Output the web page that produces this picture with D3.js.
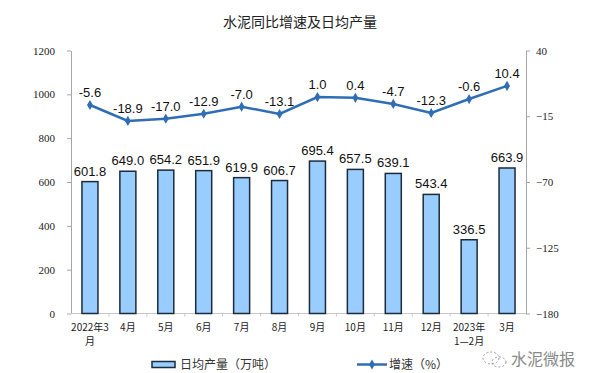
<!DOCTYPE html>
<html>
<head>
<meta charset="utf-8">
<script src="https://cdn.jsdelivr.net/npm/d3@7"></script>
<style>
  body { margin: 0; background: #fff; }
  svg { display: block; }
</style>
</head>
<body>
<div id="wrapper"></div>
<script>
// data
const categories = ["2022年3\n月", "4月", "5月", "6月", "7月", "8月", "9月", "10月", "11月", "12月", "2023年\n1—2月", "3月"];
const output = [601.8, 649.0, 654.2, 651.9, 619.9, 606.7, 695.4, 657.5, 639.1, 543.4, 336.5, 663.9];
const growth = [-5.6, -18.9, -17.0, -12.9, -7.0, -13.1, 1.0, 0.4, -4.7, -12.3, -0.6, 10.4];
const leftTicks = [0, 200, 400, 600, 800, 1000, 1200];
const rightTicks = [-180, -125, -70, -15, 40];

const dimensions = {
    width: 601,
    height: 373,
    left: 71,
    right: 526,
    top: 50.5,
    bottom: 313.5
};

const svg = d3.select("#wrapper")
    .append("svg")
    .attr("width", dimensions.width)
    .attr("height", dimensions.height);

const xScale = d3.scaleBand()
    .domain(categories)
    .range([dimensions.left, dimensions.right])
    .padding(0);

const yLeft = d3.scaleLinear()
    .domain([0, 1200])
    .range([dimensions.bottom, dimensions.top]);

const yRight = d3.scaleLinear()
    .domain([-180, 40])
    .range([dimensions.bottom, dimensions.top]);

const serif = "'Liberation Serif', 'Times New Roman', serif";
const sans = "'Liberation Sans', Arial, sans-serif";
const cjk = "'Noto Sans CJK SC', 'Noto Sans', sans-serif";

// title
svg.append("text")
    .attr("x", 300)
    .attr("y", 27)
    .attr("text-anchor", "middle")
    .attr("font-family", cjk)
    .attr("font-size", "14px")
    .attr("fill", "#222")
    .text("水泥同比增速及日均产量");

// left axis
const leftAxis = svg.append("g")
    .attr("transform", `translate(${dimensions.left},0)`)
    .call(d3.axisLeft(yLeft).tickValues(leftTicks).tickFormat(d3.format("d"))
        .tickSize(4).tickPadding(12).tickSizeOuter(0));

// right axis
const rightAxis = svg.append("g")
    .attr("transform", `translate(${dimensions.right},0)`)
    .call(d3.axisRight(yRight).tickValues(rightTicks).tickFormat(d3.format("d"))
        .tickSize(4).tickPadding(6).tickSizeOuter(0));

[leftAxis, rightAxis].forEach(ax => {
    ax.attr("font-family", serif);
    ax.select(".domain").attr("stroke", "#a6a6a6");
    ax.selectAll(".tick line").attr("stroke", "#a6a6a6");
    ax.selectAll(".tick text")
        .attr("font-family", serif)
        .attr("font-size", "11px")
        .attr("fill", "#222");
});

// bottom axis: line, boundary ticks, labels
svg.append("line")
    .attr("x1", dimensions.left)
    .attr("x2", dimensions.right)
    .attr("y1", dimensions.bottom)
    .attr("y2", dimensions.bottom)
    .attr("stroke", "#c8c8c8");

svg.selectAll(".xtick")
    .data(categories.slice(1))
    .enter()
    .append("line")
    .attr("class", "xtick")
    .attr("x1", d => xScale(d))
    .attr("x2", d => xScale(d))
    .attr("y1", dimensions.bottom)
    .attr("y2", dimensions.bottom + 3)
    .attr("stroke", "#c8c8c8");

// category labels, one text per line so wrapped labels stay separate
categories.forEach(c => {
    const cx = xScale(c) + xScale.bandwidth() / 2;
    c.split("\n").forEach((line, i) => {
        svg.append("text")
            .attr("x", cx)
            .attr("y", 331 + i * 14)
            .attr("text-anchor", "middle")
            .attr("font-family", cjk)
            .attr("font-size", "10px")
            .attr("fill", "#222")
            .text(line);
    });
});

// bars
const barWidth = 16;
svg.selectAll(".bar")
    .data(output)
    .enter()
    .append("rect")
    .attr("class", "bar")
    .attr("x", (d, i) => xScale(categories[i]) + (xScale.bandwidth() - barWidth) / 2)
    .attr("y", d => yLeft(d))
    .attr("width", barWidth)
    .attr("height", d => yLeft(0) - yLeft(d))
    .attr("fill", "#99ccff")
    .attr("stroke", "#1c2b3a")
    .attr("stroke-width", 1.5);

svg.selectAll(".bar-label")
    .data(output)
    .enter()
    .append("text")
    .attr("class", "bar-label")
    .attr("x", (d, i) => xScale(categories[i]) + xScale.bandwidth() / 2)
    .attr("y", d => yLeft(d) - 6)
    .attr("text-anchor", "middle")
    .attr("font-family", sans)
    .attr("font-size", "13px")
    .attr("fill", "#111")
    .text(d => d.toFixed(1));

// growth line
const lineColor = "#2f6db5";
const lineGenerator = d3.line()
    .x((d, i) => xScale(categories[i]) + xScale.bandwidth() / 2)
    .y(d => yRight(d));

svg.append("path")
    .datum(growth)
    .attr("d", lineGenerator)
    .attr("fill", "none")
    .attr("stroke", lineColor)
    .attr("stroke-width", 2.5);

const diamond = d3.symbol().type(d3.symbolDiamond).size(30);
svg.selectAll(".marker")
    .data(growth)
    .enter()
    .append("path")
    .attr("class", "marker")
    .attr("d", diamond)
    .attr("transform", (d, i) => `translate(${xScale(categories[i]) + xScale.bandwidth() / 2},${yRight(d)})`)
    .attr("fill", lineColor);

svg.selectAll(".line-label")
    .data(growth)
    .enter()
    .append("text")
    .attr("class", "line-label")
    .attr("x", (d, i) => xScale(categories[i]) + xScale.bandwidth() / 2)
    .attr("y", d => yRight(d) - 8)
    .attr("text-anchor", "middle")
    .attr("font-family", sans)
    .attr("font-size", "13px")
    .attr("fill", "#111")
    .text(d => d.toFixed(1));

// legend
const legend = svg.append("g");
legend.append("rect")
    .attr("x", 152).attr("y", 361.5)
    .attr("width", 23).attr("height", 6)
    .attr("fill", "#99ccff").attr("stroke", "#1c2b3a").attr("stroke-width", 1.5);
legend.append("text")
    .attr("x", 180).attr("y", 369)
    .attr("font-family", cjk).attr("font-size", "12px").attr("fill", "#333")
    .text("日均产量（万吨）");

legend.append("line")
    .attr("x1", 357).attr("x2", 387).attr("y1", 364.5).attr("y2", 364.5)
    .attr("stroke", lineColor).attr("stroke-width", 2.5);
legend.append("path")
    .attr("d", diamond)
    .attr("transform", "translate(372,364.5)")
    .attr("fill", lineColor);
legend.append("text")
    .attr("x", 389).attr("y", 369)
    .attr("font-family", cjk).attr("font-size", "12px").attr("fill", "#333")
    .text("增速（%）");

// watermark
const mark = svg.append("g").attr("stroke", "#9a9a9a").attr("fill", "none").attr("stroke-width", 1);
mark.append("ellipse")
    .attr("cx", 491).attr("cy", 358).attr("rx", 8).attr("ry", 6)
    .attr("stroke-dasharray", "2 2");
mark.append("ellipse")
    .attr("cx", 499).attr("cy", 362).attr("rx", 7).attr("ry", 5)
    .attr("stroke-dasharray", "2 2");
svg.append("text")
    .attr("x", 511).attr("y", 365)
    .attr("font-family", cjk).attr("font-size", "16px").attr("fill", "#8a8a8a")
    .text("水泥微报");
</script>
</body>
</html>
